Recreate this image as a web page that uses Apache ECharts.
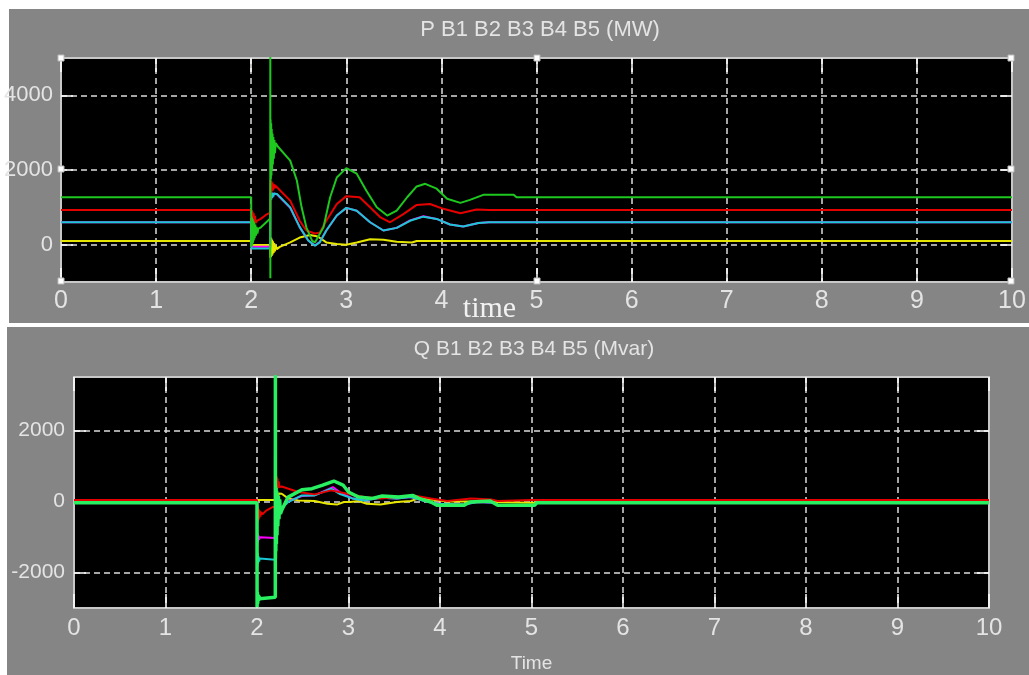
<!DOCTYPE html>
<html><head><meta charset="utf-8">
<script src="https://cdn.jsdelivr.net/npm/echarts@6/dist/echarts.min.js"></script>
<style>html,body{margin:0;padding:0;background:#fff;}#c{width:1029px;height:675px;}</style>
</head><body><div id="c"></div>
<script>
// ---------- data ----------
const xTickValues = [0,1,2,3,4,5,6,7,8,9,10];
const pYTicks = [0, 2000, 4000];
const qYTicks = [-2000, 0, 2000];
const seriesNames = ['B1','B2','B3','B4','B5'];

// P panel (MW) : [time, value]
const P_B1 = [[0,100],[2.0,100],[2.003,-10],[2.2,-10],[2.201,-350],[2.204,200],[2.208,-330],[2.212,170],[2.216,-300],[2.22,130],[2.225,-260],[2.23,90],[2.236,-220],[2.242,40],[2.25,-180],[2.258,-20],[2.27,-120],[2.3,-60],[2.41,60],[2.51,190],[2.62,260],[2.7,220],[2.79,60],[2.9,20],[3.0,0],[3.11,60],[3.25,145],[3.39,130],[3.53,80],[3.69,60],[3.74,100],[10,100]];
const P_B2 = [[0,600],[2.0,600],[2.002,-55],[2.2,-55],[2.201,1200],[2.21,1390],[2.22,1250],[2.23,1370],[2.25,1320],[2.27,1350],[2.41,990],[2.51,470],[2.6,110],[2.67,-20],[2.72,70],[2.79,380],[2.9,780],[3.0,985],[3.11,910],[3.25,600],[3.39,380],[3.53,450],[3.67,650],[3.81,760],[3.95,690],[4.09,540],[4.23,485],[4.39,580],[4.5,600],[10,600]];
const P_B3 = [[0,600],[2.0,600],[2.002,-100],[2.2,-100],[2.201,1150],[2.205,1420],[2.21,1200],[2.215,1400],[2.22,1250],[2.226,1380],[2.233,1290],[2.24,1370],[2.25,1320],[2.27,1360],[2.41,1000],[2.51,470],[2.6,110],[2.67,-30],[2.72,60],[2.79,380],[2.9,780],[3.0,985],[3.11,910],[3.25,600],[3.39,380],[3.53,450],[3.67,640],[3.81,750],[3.95,690],[4.09,540],[4.23,485],[4.39,580],[4.5,600],[10,600]];
const P_B4 = [[0,930],[2.0,930],[2.003,620],[2.007,920],[2.011,600],[2.015,880],[2.02,590],[2.026,840],[2.033,570],[2.04,770],[2.048,580],[2.06,640],[2.1,690],[2.15,790],[2.2,860],[2.201,1740],[2.204,1380],[2.208,1720],[2.212,1400],[2.216,1690],[2.22,1430],[2.225,1660],[2.23,1460],[2.236,1620],[2.243,1500],[2.25,1590],[2.27,1540],[2.41,1180],[2.51,640],[2.58,380],[2.67,300],[2.72,320],[2.79,640],[2.9,1090],[3.0,1300],[3.14,1270],[3.25,1000],[3.36,730],[3.46,600],[3.6,820],[3.74,1065],[3.88,1090],[4.02,960],[4.2,840],[4.37,940],[4.5,930],[10,930]];
const P_B5 = [[0,1270],[2.0,1270],[2.001,-60],[2.003,760],[2.006,-40],[2.009,720],[2.012,0],[2.015,690],[2.019,50],[2.023,650],[2.027,110],[2.032,600],[2.037,170],[2.043,540],[2.05,240],[2.057,480],[2.065,300],[2.075,430],[2.1,460],[2.15,580],[2.2,700],[2.201,5200],[2.2015,-900],[2.202,2000],[2.204,3350],[2.207,1750],[2.21,3250],[2.213,1850],[2.216,3100],[2.22,2000],[2.224,2980],[2.228,2150],[2.233,2880],[2.238,2300],[2.244,2800],[2.25,2450],[2.258,2720],[2.28,2630],[2.41,2250],[2.48,1720],[2.53,1000],[2.58,465],[2.64,107],[2.67,60],[2.76,465],[2.83,1270],[2.9,1800],[3.0,2050],[3.11,1900],[3.21,1450],[3.32,1000],[3.43,780],[3.53,910],[3.64,1270],[3.74,1560],[3.83,1630],[3.95,1500],[4.06,1230],[4.2,1120],[4.3,1200],[4.44,1335],[4.76,1335],[4.79,1270],[10,1270]];

// Q panel (Mvar) : [time, value]
const Q_B1 = [[0,-40],[2.0,-40],[2.002,40],[2.2,40],[2.201,300],[2.205,60],[2.21,280],[2.215,90],[2.22,250],[2.23,130],[2.24,220],[2.27,216],[2.34,84],[2.45,28],[2.63,9],[2.77,-66],[2.88,-85],[2.95,-19],[3.02,-19],[3.11,9],[3.2,-66],[3.35,-85],[3.53,-19],[3.68,9],[3.77,84],[3.9,56],[4.08,0],[4.3,0],[4.6,-20],[5.0,-40],[10,-40]];
const Q_B2 = [[0,-40],[2.0,-40],[2.001,-800],[2.004,-1250],[2.008,-900],[2.012,-1150],[2.017,-960],[2.023,-1080],[2.03,-1010],[2.2,-1030],[2.201,-600],[2.21,-200],[2.22,-400],[2.25,-250],[2.34,0],[2.49,150],[2.63,170],[2.83,400],[2.92,230],[3.04,90],[3.17,30],[3.35,100],[3.53,80],[3.68,120],[3.83,10],[3.97,-70],[4.26,-90],[4.41,-20],[4.59,-40],[4.63,-100],[5.03,-100],[5.06,-40],[10,-40]];
const Q_B3 = [[0,-40],[2.0,-40],[2.001,-1200],[2.004,-1850],[2.008,-1450],[2.012,-1750],[2.017,-1550],[2.023,-1690],[2.03,-1610],[2.2,-1640],[2.201,-700],[2.205,-200],[2.21,-550],[2.215,-250],[2.22,-480],[2.23,-300],[2.25,-350],[2.34,-19],[2.49,169],[2.63,169],[2.81,357],[2.9,216],[3.04,84],[3.17,28],[3.35,103],[3.53,84],[3.68,121],[3.83,9],[3.97,-66],[4.26,-85],[4.41,-19],[4.59,-40],[4.63,-100],[5.03,-100],[5.06,-40],[10,-40]];
const Q_B4 = [[0,40],[2.0,40],[2.001,-650],[2.004,-80],[2.008,-600],[2.012,-150],[2.016,-540],[2.02,-220],[2.025,-480],[2.03,-260],[2.037,-430],[2.045,-300],[2.06,-360],[2.1,-260],[2.17,-160],[2.2,-150],[2.201,820],[2.204,250],[2.208,760],[2.212,300],[2.216,700],[2.22,340],[2.225,640],[2.23,370],[2.237,560],[2.245,400],[2.27,420],[2.45,263],[2.63,197],[2.81,310],[2.99,216],[3.17,121],[3.35,84],[3.53,121],[3.71,169],[3.9,84],[4.08,9],[4.34,84],[4.56,56],[4.63,10],[5.0,40],[10,40]];
const Q_B5 = [[0,-40],[2.0,-40],[2.001,-2980],[2.004,-2550],[2.008,-2880],[2.012,-2620],[2.016,-2800],[2.02,-2660],[2.026,-2740],[2.035,-2690],[2.2,-2695],[2.201,3700],[2.2015,-1600],[2.203,450],[2.206,-1400],[2.209,380],[2.212,-1200],[2.215,300],[2.219,-950],[2.223,220],[2.228,-700],[2.234,150],[2.24,-500],[2.248,60],[2.256,-350],[2.27,-250],[2.34,121],[2.49,329],[2.6,357],[2.71,451],[2.84,573],[2.94,460],[3.0,263],[3.11,121],[3.26,84],[3.37,150],[3.55,121],[3.7,169],[3.77,84],[3.9,-19],[3.97,-112],[4.26,-112],[4.33,-19],[4.55,9],[4.63,-112],[5.03,-112],[5.06,-40],[10,-40]];

// ---------- styling ----------
const SANS = '"Liberation Sans Narrow","Liberation Sans",Arial,sans-serif';
const TXT = '#e4e4e4';
const pColors = ['#e6e600','#ff00ff','#19c8d2','#e60000','#1ec81e'];
const qColors = ['#e6e600','#ff00ff','#19c8d2','#e60000','#28f060'];
const plain = v => String(v);

function xAxes(gi, fs, margin, name, nameOpts) {
  return [{
    type:'value', gridIndex:gi, min:0, max:10, interval:1, position:'bottom',
    axisLine:{show:true,onZero:false,lineStyle:{color:'#c8c8c8',width:2}},
    axisTick:{show:true,inside:true,length:14,lineStyle:{color:'#ffffff',width:1.5}},
    axisLabel:{color:TXT,fontSize:fs,fontFamily:SANS,margin:margin,showMinLabel:true,showMaxLabel:true,hideOverlap:false,formatter:plain},
    splitLine:{show:true,lineStyle:{color:'#dcdcdc',type:[6,4],width:1.5}},
    name:name, nameLocation:'middle', nameGap:nameOpts.gap, nameMoveOverlap:nameOpts.move, nameTextStyle:nameOpts.style
  },{
    type:'value', gridIndex:gi, min:0, max:10, interval:1, position:'top',
    axisLine:{show:true,onZero:false,lineStyle:{color:'#c8c8c8',width:2}},
    axisTick:{show:true,inside:true,length:14,lineStyle:{color:'#ffffff',width:1.5}},
    axisLabel:{show:false}, splitLine:{show:false}
  }];
}
function yAxes(gi, min, max, ticks, fs, margin) {
  return [{
    type:'value', gridIndex:gi, min:min, max:max, position:'left',
    axisLine:{show:true,onZero:false,lineStyle:{color:'#c8c8c8',width:2}},
    axisTick:{show:true,inside:true,length:12,customValues:ticks,lineStyle:{color:'#ffffff',width:1.5}},
    axisLabel:{color:TXT,fontSize:fs,fontFamily:SANS,margin:margin,customValues:ticks,formatter:plain},
    splitLine:{show:true,lineStyle:{color:'#dcdcdc',type:[6,4],width:1.5}}
  },{
    type:'value', gridIndex:gi, min:min, max:max, position:'right',
    axisLine:{show:true,onZero:false,lineStyle:{color:'#c8c8c8',width:2}},
    axisTick:{show:true,inside:true,length:12,customValues:ticks,lineStyle:{color:'#ffffff',width:1.5}},
    axisLabel:{show:false,customValues:ticks}, splitLine:{show:false}
  }];
}

const pData = [P_B1,P_B2,P_B3,P_B4,P_B5];
const qData = [Q_B1,Q_B2,Q_B3,Q_B4,Q_B5];
const series = [];
pData.forEach((d,i)=>series.push({type:'line',name:'P '+seriesNames[i],xAxisIndex:0,yAxisIndex:0,data:d,showSymbol:false,
  lineStyle:{color:pColors[i],width:2},itemStyle:{color:pColors[i]},animation:false}));
qData.forEach((d,i)=>series.push({type:'line',name:'Q '+seriesNames[i],xAxisIndex:2,yAxisIndex:2,data:d,showSymbol:false,
  lineStyle:{color:qColors[i],width:i===4?3.5:2},itemStyle:{color:qColors[i]},animation:false}));

// small white selection handles on the upper scope's frame (decoration)
const handleSpots = [[61,58],[61,169],[61,281],[537,58],[537,281],[1011,58],[1011,169],[1011,281]];
const handles = handleSpots.map(p=>({type:'rect',shape:{x:p[0]-3,y:p[1]-3,width:6,height:6},
  style:{fill:'#ffffff',stroke:'#bbbbbb',lineWidth:1},z:100,silent:true}));

const option = {
  backgroundColor:'#ffffff',
  animation:false,
  graphic:[
    {type:'rect',shape:{x:9,y:9,width:1020,height:314},style:{fill:'#858585'},z:-10,silent:true},
    {type:'rect',shape:{x:7,y:327,width:1022,height:348},style:{fill:'#858585'},z:-10,silent:true}
  ].concat(handles),
  title:[
    {text:'P B1 B2 B3 B4 B5 (MW)',left:535,top:14,textAlign:'center',textStyle:{color:TXT,fontSize:22,fontWeight:'normal',fontFamily:SANS}},
    {text:'Q B1 B2 B3 B4 B5 (Mvar)',left:529,top:334,textAlign:'center',textStyle:{color:TXT,fontSize:21,fontWeight:'normal',fontFamily:SANS}}
  ],
  grid:[
    {left:61,top:58,width:951,height:224,show:true,backgroundColor:'#000',borderWidth:0,containLabel:false,outerBoundsMode:'none'},
    {left:74,top:377,width:915,height:231,show:true,backgroundColor:'#000',borderWidth:0,containLabel:false,outerBoundsMode:'none'}
  ],
  xAxis:[].concat(
    xAxes(0,25,7,'time',{gap:12,move:false,style:{color:'#f2f2f2',fontSize:30,fontFamily:'"Liberation Serif","Times New Roman",serif',padding:[0,94,0,0]}}),
    xAxes(1,24,8,'Time',{gap:46,move:false,style:{color:TXT,fontSize:19,fontFamily:SANS}})
  ),
  yAxis:[].concat(
    yAxes(0,-1000,5000,pYTicks,22,8),
    yAxes(1,-3000,3500,qYTicks,21,9)
  ),
  series:series
};
const chart = echarts.init(document.getElementById('c'),null,{renderer:'canvas'});
chart.setOption(option);
</script></body></html>
